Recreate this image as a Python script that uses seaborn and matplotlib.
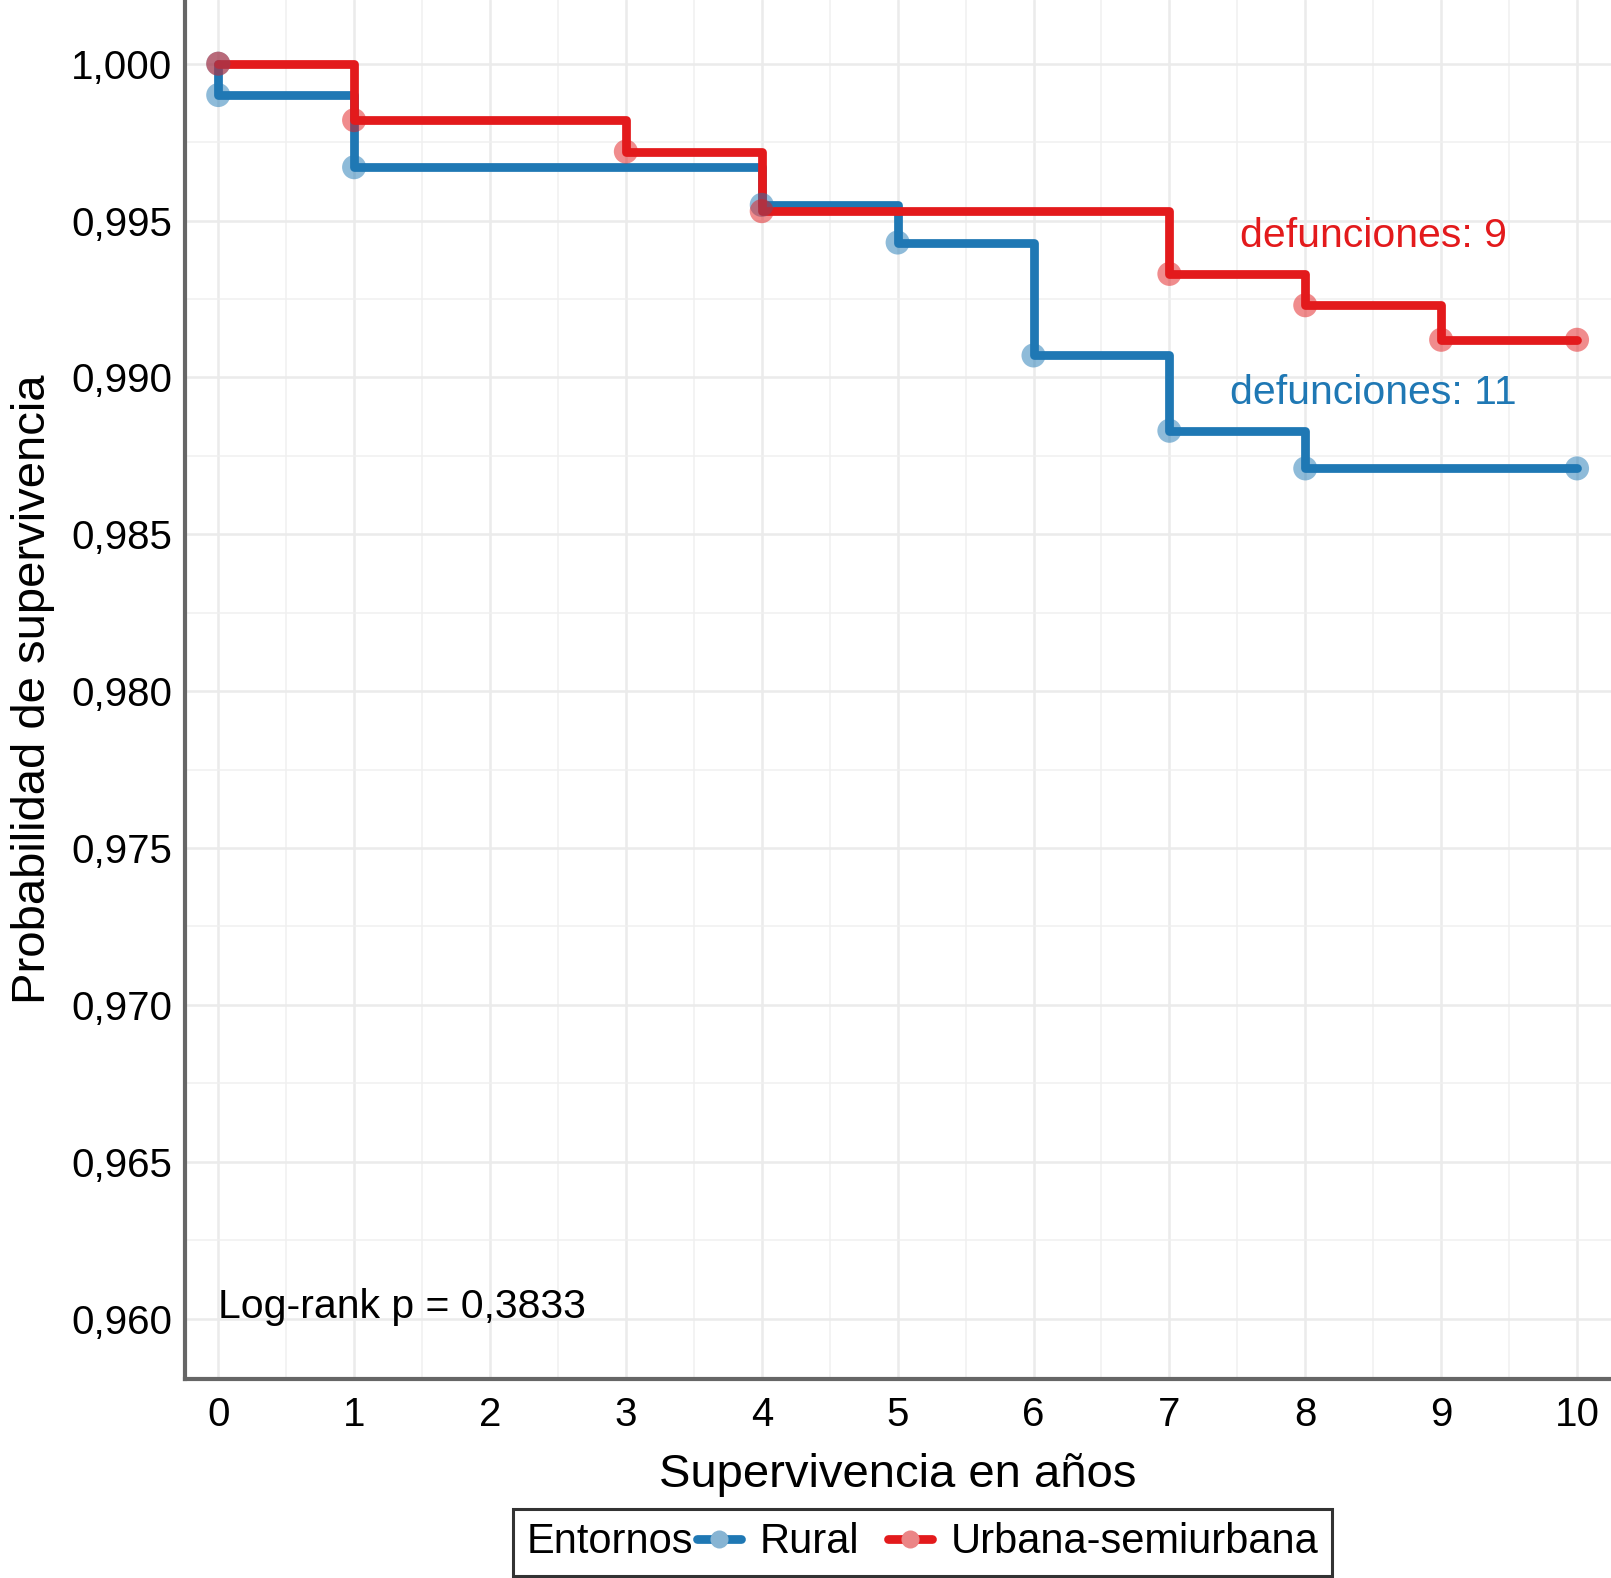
import numpy as np
import pandas as pd
import matplotlib
matplotlib.use("Agg")
import matplotlib.pyplot as plt
import seaborn as sns
from matplotlib.lines import Line2D
from matplotlib.offsetbox import HPacker
from matplotlib.ticker import MultipleLocator

# Kaplan-Meier curves
rural_t = [0, 0, 1, 4, 5, 6, 7, 8, 10]
rural_s = [1.0, 0.9990, 0.9967, 0.9955, 0.9943, 0.9907, 0.9883, 0.9871, 0.9871]
urbana_t = [0, 1, 3, 4, 7, 8, 9, 10]
urbana_s = [1.0, 0.9982, 0.9972, 0.9953, 0.9933, 0.9923, 0.9912, 0.9912]

grupos = ["Rural", "Urbana-semiurbana"]
colores = {"Rural": "#1F78B4", "Urbana-semiurbana": "#E31A1C"}
defunciones = {"Rural": 11, "Urbana-semiurbana": 9}
etiqueta_y = {"Rural": 0.9895, "Urbana-semiurbana": 0.9945}

x_ticks = list(range(0, 11))
y_ticks = [0.960, 0.965, 0.970, 0.975, 0.980, 0.985, 0.990, 0.995, 1.000]
y_labels = ["0,960", "0,965", "0,970", "0,975", "0,980", "0,985", "0,990", "0,995", "1,000"]
p_texto = "Log-rank p = 0,3833"

df = pd.concat([
    pd.DataFrame({"t": rural_t, "s": rural_s, "grupo": "Rural"}),
    pd.DataFrame({"t": urbana_t, "s": urbana_s, "grupo": "Urbana-semiurbana"}),
], ignore_index=True)

sns.set_theme(style="white")
plt.rcParams["font.family"] = ["Liberation Sans", "DejaVu Sans"]
plt.rcParams["text.color"] = "black"
plt.rcParams["axes.labelcolor"] = "black"

fig = plt.figure(figsize=(16.11, 15.78), dpi=100)
ax = fig.add_axes([0.1148, 0.126, 0.8852, 0.874])

# lines (steps)
sns.lineplot(data=df, x="t", y="s", hue="grupo", palette=colores, estimator=None,
             sort=False, drawstyle="steps-post", linewidth=6.3, ax=ax, legend=False,
             zorder=3)
# points
sns.scatterplot(data=df, x="t", y="s", hue="grupo", palette=colores, s=300, alpha=0.5,
                edgecolor=None, linewidth=0, ax=ax, legend=False, zorder=4)

ax.set_xlim(-0.245, 10.25)
ax.set_ylim(0.95807, 1.00203)
ax.set_xticks(x_ticks)
ax.set_xticklabels([str(v) for v in x_ticks])
ax.set_yticks(y_ticks)
ax.set_yticklabels(y_labels)
ax.xaxis.set_minor_locator(MultipleLocator(0.5))
ax.yaxis.set_minor_locator(MultipleLocator(0.0025))
ax.grid(which="major", color="#ebebeb", linewidth=1.8)
ax.grid(which="minor", color="#f0f0f0", linewidth=1.1)
ax.set_axisbelow(True)
ax.tick_params(axis="both", which="both", length=0, labelsize=29, colors="black")
ax.tick_params(axis="x", pad=12)
ax.tick_params(axis="y", pad=9)

for side in ["top", "right"]:
    ax.spines[side].set_visible(False)
for side in ["left", "bottom"]:
    ax.spines[side].set_color("#666666")
    ax.spines[side].set_linewidth(3)

ax.set_xlabel("Supervivencia en años", fontsize=34, labelpad=14)
ax.set_ylabel("Probabilidad de supervivencia", fontsize=34, labelpad=12)

for g in grupos:
    ax.text(8.5, etiqueta_y[g], f"defunciones: {defunciones[g]}", color=colores[g],
            fontsize=29.5, ha="center", va="center")
ax.text(0, 0.96036, p_texto, fontsize=29.5, ha="left", va="center", color="black")

handles = []
for g in grupos:
    h = Line2D([0], [0], color=colores[g], linewidth=6.3, marker="o", markersize=13,
               markeredgewidth=0)
    h.set_markerfacecolor(sns.light_palette(colores[g], 3)[1])
    handles.append(h)
leg = fig.legend(handles, grupos, title="Entornos", ncol=2, loc="center",
                 bbox_to_anchor=(0.5725, 0.0225), fontsize=30, title_fontsize=30,
                 frameon=True, fancybox=False, edgecolor="black", handlelength=1.05,
                 handletextpad=0.45, columnspacing=0.7, borderpad=0.33,
                 borderaxespad=0)
leg.get_frame().set_linewidth(2.2)
# put the legend title inline, just left of the keys
box = leg.get_children()[0]
title = box.get_children()[0]
hpack = box.get_children()[1]
fila = HPacker(pad=0, sep=3, align="center", children=[title, hpack])
fila.set_figure(fig)
box._children = [fila]

fig.savefig("out.png", dpi=100)
